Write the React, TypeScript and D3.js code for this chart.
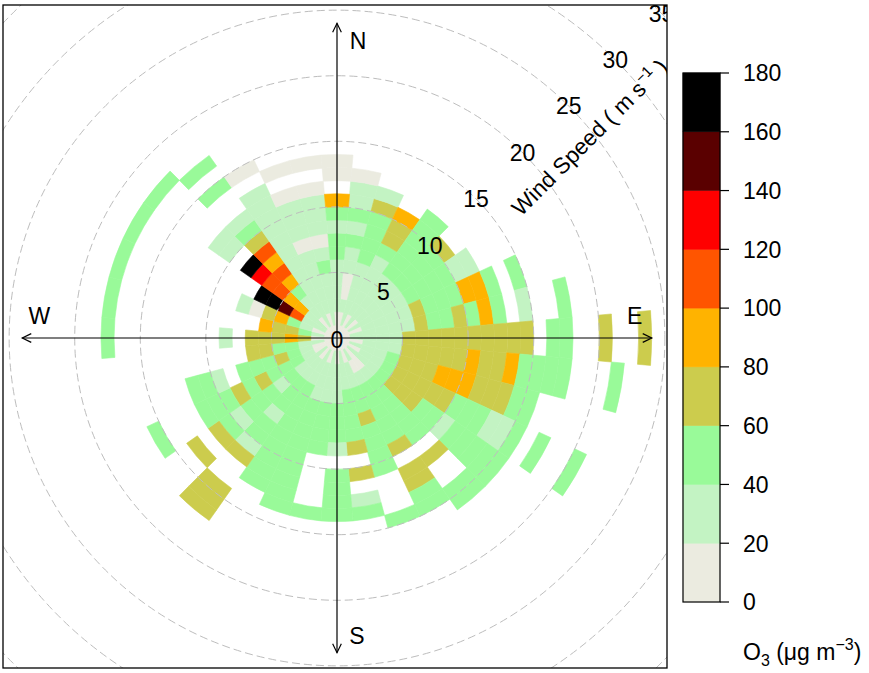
import React from 'react';
import * as d3 from 'd3';

const width = 869;
const height = 673;

// centre of each 10 degree wind direction sector
const directions = d3.range(10, 361, 10);
// 1 m/s wind speed bins, lower edge
const speedBins = d3.range(0, 25);
// O3 class of each cell, one row per direction (10..360), inner -> outer speed bin
// digit = class (0: 0-20, 1: 20-40 ... 8: 160-180), '.' = no data
const o3Classes = [
  '0010011212110',
  '011111222231',
  '00111112334',
  '011111222222',
  '00111122223',
  '011111222211',
  '0011113222442.2',
  '0111113223242.1..2',
  '011113333333333.22..3..3',
  '001113333343342222...2',
  '0111233344433322',
  '0011233333222112.2..2',
  '0111233322122222',
  '0001222222.3..22',
  '0101222223.3322',
  '00112232222...2',
  '011122223.3.12',
  '001112221.2222',
  '011112222....2',
  '00111222222222',
  '0111222222222',
  '001122212213..333',
  '011121222123.3',
  '001222323222...2',
  '00123222.122',
  '0112233',
  '0034333.1........2',
  '012334...........2',
  '00124301.........2',
  '0115788..........2',
  '011445568.11.....2',
  '001124545321..2.2',
  '0111111111111.0',
  '001111101110.0',
  '011112101110.0',
  '00111122124.00',
];

const o3Breaks = d3.range(0, 181, 20);
const o3Colours = [
  '#EBEBE0', '#C3F3C3', '#99FA99', '#CCCC4D', '#FFB300',
  '#FF5500', '#FF0000', '#5A0000', '#000000',
];
const ringSpeeds = [5, 10, 15, 20, 25, 30, 35];

const FONT = 'Liberation Sans, Arial, Helvetica, sans-serif';

const cx = 337;
const cy = 338;
const panel = { x0: 3, y0: 5, x1: 667, y1: 668 };

const App = () => {
  const r = d3.scaleLinear().domain([0, 35]).range([0, 459]);
  const colour = d3.scaleThreshold<number, string>()
    .domain(o3Breaks.slice(1, -1))
    .range(o3Colours);
  const arc = d3.arc();
  const rad = (deg: number) => (deg * Math.PI) / 180;

  // build the cells from the table
  const cells: { dir: number; ws: number; o3: number }[] = [];
  directions.forEach((dir, i) => {
    const row = o3Classes[i];
    speedBins.forEach((ws) => {
      const ch = row[ws];
      if (ch === undefined || ch === '.') return;
      cells.push({ dir, ws, o3: +ch * 20 + 10 });
    });
  });

  // colour key
  const keyY = d3.scaleLinear().domain([0, 180]).range([602, 73]);
  const keyX = 683;
  const keyW = 37;

  const axisLen = r(24);
  const head = 10;
  const arrow = (x: number, y: number, ang: number) => {
    // ang: direction the arrow points, radians (screen)
    const a1 = ang + Math.PI - 0.45;
    const a2 = ang + Math.PI + 0.45;
    return `M${x + head * Math.cos(a1)},${y + head * Math.sin(a1)}L${x},${y}L${x + head * Math.cos(a2)},${y + head * Math.sin(a2)}`;
  };

  const labAlong = r(22.7);
  const compass = [
    { label: 'N', x: cx + 21, y: cy - labAlong },
    { label: 'S', x: cx + 20, y: cy + labAlong },
    { label: 'E', x: cx + labAlong, y: cy - 22 },
    { label: 'W', x: cx - labAlong, y: cy - 22 },
  ];

  return (
    <svg
      width={width}
      height={height}
      style={{ position: 'absolute', left: 0, top: 0, background: '#fff' }}
      fontFamily={FONT}
    >
      <defs>
        <clipPath id="panel-clip">
          <rect x={panel.x0} y={panel.y0} width={panel.x1 - panel.x0} height={panel.y1 - panel.y0} />
        </clipPath>
      </defs>

      <g clipPath="url(#panel-clip)">
        <g transform={`translate(${cx},${cy})`}>
          {cells.map((d, i) => {
            const c = colour(d.o3);
            return (
              <path
                key={i}
                d={arc({
                  innerRadius: r(d.ws),
                  outerRadius: r(d.ws + 1),
                  startAngle: rad(d.dir - 5),
                  endAngle: rad(d.dir + 5),
                }) || ''}
                fill={c}
                stroke={c}
                strokeWidth={0.6}
              />
            );
          })}
          {ringSpeeds.map((s) => (
            <circle key={s} r={r(s)} fill="none" stroke="#BDBDBD" strokeWidth={1} strokeDasharray="8,4" />
          ))}
        </g>

        {/* axes with arrows */}
        <g stroke="#000" strokeWidth={1.2} fill="none">
          <line x1={cx - axisLen} y1={cy} x2={cx + axisLen} y2={cy} />
          <line x1={cx} y1={cy - axisLen} x2={cx} y2={cy + axisLen} />
          <path d={arrow(cx + axisLen, cy, 0)} />
          <path d={arrow(cx - axisLen, cy, Math.PI)} />
          <path d={arrow(cx, cy - axisLen, -Math.PI / 2)} />
          <path d={arrow(cx, cy + axisLen, Math.PI / 2)} />
        </g>

        {compass.map((d) => (
          <text key={d.label} x={d.x} y={d.y} dy="0.36em" textAnchor="middle" fontSize={23} fill="#000">
            {d.label}
          </text>
        ))}

        <text x={cx} y={cy + 2} dy="0.36em" textAnchor="middle" fontSize={23} fill="#000">0</text>
        {ringSpeeds.map((s) => (
          <text
            key={s}
            x={cx + r(s) * Math.SQRT1_2}
            y={cy - r(s) * Math.SQRT1_2}
            dy="0.36em"
            textAnchor="middle"
            fontSize={23}
            fill="#000"
          >
            {s}
          </text>
        ))}

        <text
          transform={`translate(${cx + r(15) * Math.SQRT1_2 + 45},${cy - r(15) * Math.SQRT1_2 + 18}) rotate(-45)`}
          fontSize={22.5}
          fill="#000"
        >
          Wind Speed ( m s<tspan dy={-9} fontSize={15}>−1</tspan><tspan dy={9}> )</tspan>
        </text>
      </g>

      <rect
        x={panel.x0}
        y={panel.y0}
        width={panel.x1 - panel.x0}
        height={panel.y1 - panel.y0}
        fill="none"
        stroke="#000"
        strokeWidth={1.3}
      />

      {/* colour key */}
      <g>
        {o3Colours.map((c, i) => (
          <rect
            key={c}
            x={keyX}
            y={keyY(o3Breaks[i + 1])}
            width={keyW}
            height={keyY(o3Breaks[i]) - keyY(o3Breaks[i + 1])}
            fill={c}
            stroke={c}
            strokeWidth={0.5}
          />
        ))}
        <rect x={keyX} y={keyY(180)} width={keyW} height={keyY(0) - keyY(180)} fill="none" stroke="#000" strokeWidth={1.2} />
        {o3Breaks.map((b) => (
          <g key={b}>
            <line x1={keyX + keyW} x2={keyX + keyW + 9} y1={keyY(b)} y2={keyY(b)} stroke="#000" strokeWidth={1.2} />
            <text x={743} y={keyY(b)} dy="0.36em" fontSize={23} fill="#000">{b}</text>
          </g>
        ))}
        <text x={743} y={660} fontSize={23} fill="#000">
          O<tspan dy={6} fontSize={16}>3</tspan><tspan dy={-6}> (μg m</tspan><tspan dy={-10} fontSize={16}>−3</tspan><tspan dy={10}>)</tspan>
        </text>
      </g>
    </svg>
  );
};

export default App;
